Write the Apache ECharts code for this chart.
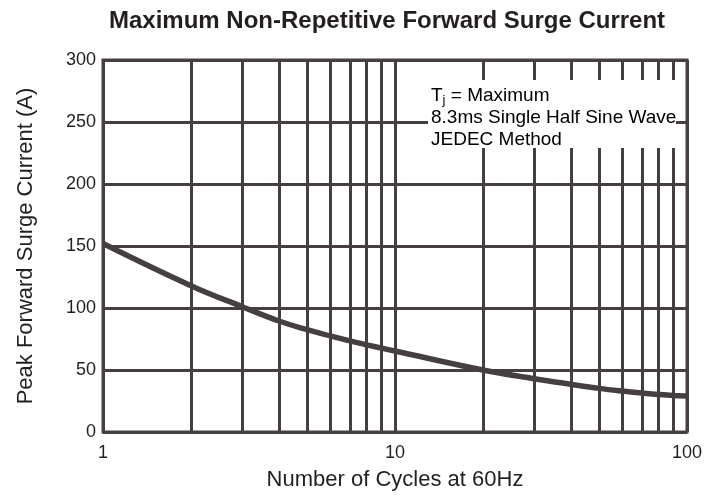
<!DOCTYPE html>
<html><head><meta charset="utf-8">
<script src="https://cdn.jsdelivr.net/npm/echarts@6/dist/echarts.min.js"></script>
<style>html,body{margin:0;padding:0;background:#fff}#c{width:722px;height:497px}</style>
</head><body><div id="c"></div>
<script>
var cycles = [1, 2, 3, 4, 5, 6, 7, 8, 9, 10, 20, 30, 40, 50, 60, 70, 80, 90, 100];
var surgeCurrent = [152, 118, 101, 89.5, 82.5, 77.5, 73.5, 70.3, 67.6, 65.3, 50, 43, 38.5, 35.2, 33, 31.4, 30.2, 29.5, 29];
var minorGridX = [2, 3, 4, 5, 6, 7, 8, 9, 20, 30, 40, 50, 60, 70, 80, 90];
var yTicks = [0, 50, 100, 150, 200, 250, 300];
var noteLines = ['{a|T}{s|j}{a| = Maximum}', '{a|8.3ms Single Half Sine Wave}', '{a|JEDEC Method}'];

var ink = '#463f3f';
var font = "'Liberation Sans', Arial, sans-serif";
var chart = echarts.init(document.getElementById('c'), null, {renderer: 'canvas'});
chart.setOption({
  animation: false,
  backgroundColor: '#fff',
  title: {
    text: 'Maximum Non-Repetitive Forward Surge Current',
    left: 104, top: 4,
    textStyle: {fontFamily: font, fontSize: 24, fontWeight: 'bold', color: '#231f20'}
  },
  grid: {left: 103, right: 35, top: 60, bottom: 65, show: true, borderColor: ink, borderWidth: 3, backgroundColor: 'transparent', z: 0},
  xAxis: {
    type: 'log', logBase: 10, min: 1, max: 100,
    name: 'Number of Cycles at 60Hz', nameLocation: 'middle', nameGap: 37,
    nameTextStyle: {fontFamily: font, fontSize: 22, color: '#231f20'},
    axisLine: {show: false}, axisTick: {show: false},
    axisLabel: {fontFamily: font, fontSize: 18, color: '#231f20', margin: 12},
    splitLine: {show: true, lineStyle: {color: ink, width: 3}}
  },
  yAxis: {
    type: 'value', min: 0, max: 300, interval: 50,
    name: 'Peak Forward Surge Current (A)', nameLocation: 'middle', nameGap: 66,
    nameTextStyle: {fontFamily: font, fontSize: 22, color: '#231f20'},
    axisLine: {show: false}, axisTick: {show: false},
    axisLabel: {fontFamily: font, fontSize: 18, color: '#231f20', margin: 7,
      customValues: yTicks},
    splitLine: {show: true, lineStyle: {color: ink, width: 3}}
  },
  series: [
    {
      type: 'line', data: [], z: 1, silent: true,
      markLine: {
        silent: true, symbol: ['none', 'none'], animation: false,
        label: {show: false},
        lineStyle: {color: ink, width: 3, type: 'solid'},
        data: minorGridX.map(function (v) { return {xAxis: v}; })
      }
    },
    {
      type: 'line', z: 5, smooth: 0.4, symbol: 'none',
      lineStyle: {color: ink, width: 5.5},
      data: cycles.map(function (c, i) { return [c, surgeCurrent[i]]; })
    }
  ],
  graphic: [
    {type: 'rect', z: 100, shape: {x: 428, y: 80, width: 248, height: 68}, style: {fill: '#fff'}},
    {type: 'text', z: 101, left: 431, top: 84,
      style: {
        text: noteLines.join('\n'),
        rich: {
          a: {fontFamily: font, fontSize: 19, color: '#231f20', lineHeight: 22},
          s: {fontFamily: font, fontSize: 13, color: '#231f20', lineHeight: 22, padding: [10, 0, 0, 0]}
        }
      }
    }
  ]
});
</script></body></html>
